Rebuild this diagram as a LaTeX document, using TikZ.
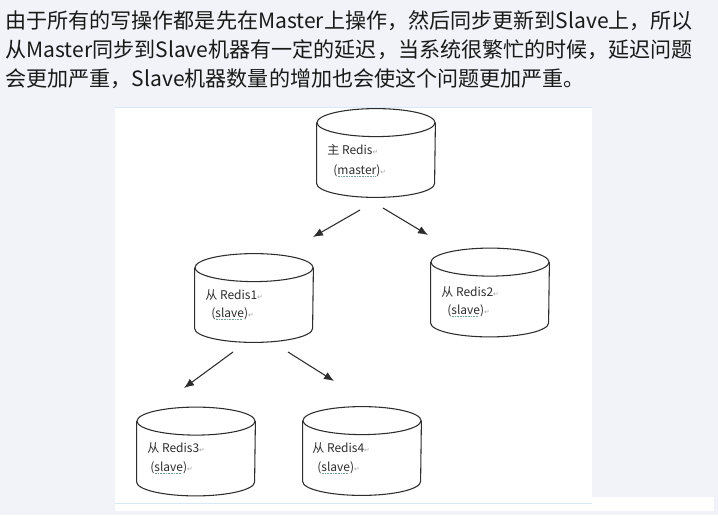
\documentclass[tikz,border=0pt]{standalone}
\usepackage{fontspec}
\setmainfont{Noto Sans CJK SC}
\newfontfamily\symfont{DejaVu Sans}
\usetikzlibrary{arrows.meta}

\definecolor{pagebg}{RGB}{242,243,248}
\definecolor{rulec}{RGB}{216,233,246}
\definecolor{inkc}{RGB}{45,45,45}
\definecolor{textc}{RGB}{25,25,25}
\definecolor{wavec}{RGB}{110,160,150}
\definecolor{markc}{RGB}{165,165,165}

\newsavebox\wbox
\newcommand\gwave[1]{\sbox\wbox{#1}\rlap{\usebox\wbox}%
  \raisebox{-1.8pt}{\textcolor{wavec}{\leaders\hbox to 1.2pt{\hss\rule{0.6pt}{0.4pt}\hss}\hskip\wd\wbox}}}
\newcommand\ret{{\symfont\color{markc}\fontsize{5pt}{5pt}\selectfont ↵}}
% outline of a redis box round a named node
\newcommand\drawdb[1]{%
  \draw[dbline] ([yshift=-10.5pt]#1.north) ellipse [x radius=44.25pt,y radius=10.5pt];
  \draw[dbline] ([yshift=-10.5pt]#1.north west) -- ([yshift=10.5pt]#1.south west)
    arc [start angle=180,end angle=360,x radius=44.25pt,y radius=10.5pt]
    -- ([yshift=-10.5pt]#1.north east);}

\begin{document}
\begin{tikzpicture}[x=0.75pt,y=-0.75pt,semithick]
  \tikzstyle{db}=[rectangle,minimum width=88.5pt,minimum height=66pt,inner sep=0pt]
  \tikzstyle{dbline}=[draw=inkc,line width=0.8pt]
  \tikzstyle{para}=[anchor=base west,inner sep=0pt,text=textc,
                    font=\fontsize{15.8pt}{19pt}\selectfont]
  \tikzstyle{tag}=[anchor=base west,inner sep=0pt,text=inkc,
                   font=\fontsize{9pt}{10pt}\selectfont]
  \tikzstyle{feed}=[->,>={Latex[length=7.5pt,width=6pt]},draw=inkc,line width=0.8pt]

  % page and picture panel
  \fill[pagebg] (0,0) rectangle (718,515);
  \fill[white] (115,107) rectangle (592,504);
  \fill[white] (115,504) rectangle (714,511);
  \fill[white] (592,497) rectangle (714,511);
  \draw[rulec,line width=0.8pt] (115,107.5) -- (592,107.5);
  \draw[rulec,line width=0.8pt] (115,503.5) -- (592,503.5);

  % text above the picture
  \node[para] (L1) at (5,28) {由于所有的写操作都是先在Master上操作，然后同步更新到Slave上，所以};
  \node[para] (L2) at (5,57) {从Master同步到Slave机器有一定的延迟，当系统很繁忙的时候，延迟问题};
  \node[para] (L3) at (5,86) {会更加严重，Slave机器数量的增加也会使这个问题更加严重。};

  % the redis servers
  \node[db] (M)  at (376,153)   {};
  \node[db] (S1) at (254,298)   {};
  \node[db] (S2) at (490,292.5) {};
  \node[db] (S3) at (196,451.5) {};
  \node[db] (S4) at (362,451)   {};
  \drawdb{M} \drawdb{S1} \drawdb{S2} \drawdb{S3} \drawdb{S4}

  \node[tag] (Mt)  at (327,154) {主 Redis\ret};
  \node[tag] (Mr)  at (333,174) {(\gwave{master})\ret};
  \node[tag] (S1t) at (205,299) {从 Redis1\ret};
  \node[tag] (S1r) at (211,317) {(\gwave{slave})\ret};
  \node[tag] (S2t) at (441,296) {从 Redis2\ret};
  \node[tag] (S2r) at (447,314) {(\gwave{slave})\ret};
  \node[tag] (S3t) at (147,452) {从 Redis3\ret};
  \node[tag] (S3r) at (150,471) {(\gwave{slave})\ret};
  \node[tag] (S4t) at (312,452) {从 Redis4\ret};
  \node[tag] (S4r) at (317,471) {(\gwave{slave})\ret};

  % ends of the arrows
  \coordinate (M1)  at (360,210);
  \coordinate (M2)  at (383,208);
  \coordinate (S1a) at (313,237);
  \coordinate (S2a) at (428,235);
  \coordinate (S13) at (233,352);
  \coordinate (S14) at (288,352);
  \coordinate (S3a) at (184,388);
  \coordinate (S4a) at (334,381);

  \path (M1)  edge[feed] (S1a)
        (M2)  edge[feed] (S2a)
        (S13) edge[feed] (S3a)
        (S14) edge[feed] (S4a);
\end{tikzpicture}
\end{document}
